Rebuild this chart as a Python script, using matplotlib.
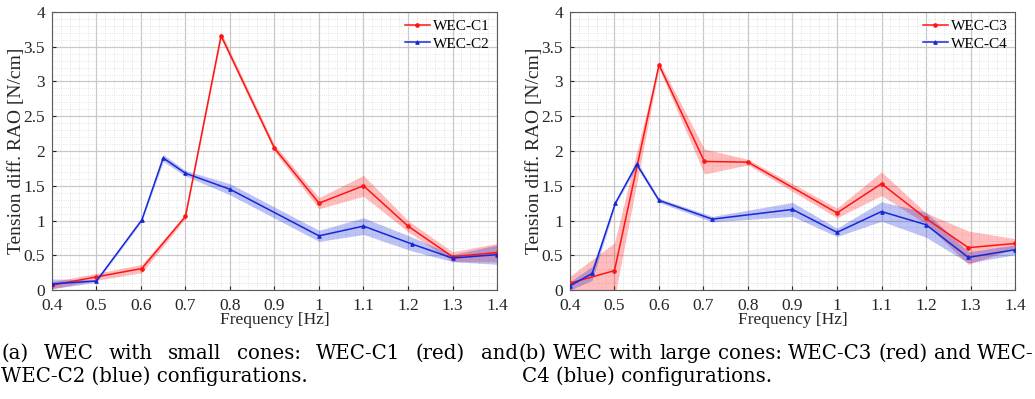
import numpy as np
import matplotlib
matplotlib.use("Agg")
import matplotlib.pyplot as plt
from matplotlib.ticker import MultipleLocator, FuncFormatter

plt.rcParams['font.family'] = ['Liberation Serif', 'DejaVu Serif']

# ---- data ----
f_c1 = [0.4, 0.5, 0.602, 0.7, 0.78, 0.9, 1.0, 1.1, 1.2, 1.3, 1.4]
rao_c1 = [0.07, 0.19, 0.31, 1.06, 3.66, 2.04, 1.25, 1.50, 0.92, 0.48, 0.54]
err_c1 = [0.05, 0.05, 0.06, 0.03, 0.05, 0.05, 0.08, 0.15, 0.08, 0.07, 0.13]

f_c2 = [0.4, 0.5, 0.602, 0.65, 0.7, 0.8, 1.0, 1.1, 1.21, 1.3, 1.4]
rao_c2 = [0.09, 0.13, 1.01, 1.90, 1.68, 1.45, 0.78, 0.92, 0.66, 0.46, 0.51]
err_c2 = [0.07, 0.02, 0.02, 0.05, 0.04, 0.08, 0.08, 0.12, 0.10, 0.05, 0.14]

f_c3 = [0.4, 0.5, 0.6, 0.702, 0.8, 1.0, 1.1, 1.2, 1.295, 1.4]
rao_c3 = [0.10, 0.28, 3.24, 1.85, 1.84, 1.11, 1.53, 1.03, 0.61, 0.67]
err_c3 = [0.10, 0.40, 0.05, 0.18, 0.04, 0.07, 0.17, 0.08, 0.24, 0.07]

f_c4 = [0.4, 0.45, 0.502, 0.55, 0.6, 0.72, 0.9, 1.0, 1.1, 1.2, 1.295, 1.4]
rao_c4 = [0.06, 0.24, 1.25, 1.81, 1.29, 1.02, 1.16, 0.83, 1.13, 0.94, 0.47, 0.58]
err_c4 = [0.06, 0.10, 0.02, 0.04, 0.03, 0.04, 0.10, 0.06, 0.14, 0.18, 0.08, 0.07]

captions = [
    ["(a) WEC with small cones: WEC-C1 (red) and", "WEC-C2 (blue) configurations."],
    ["(b) WEC with large cones: WEC-C3 (red) and WEC-", "C4 (blue) configurations."],
]

RED = '#ff1414'
BLUE = '#1428d8'


def draw_panel(ax, series):
    for f, v, e, col, mk, lab in series:
        f = np.array(f)
        v = np.array(v)
        e = np.array(e)
        ax.fill_between(f, v - e, v + e, color=col, alpha=0.28, lw=0, zorder=2)
        ax.plot(f, v, color=col, lw=1.1, marker=mk, ms=2.5, mew=0.8,
                label=lab, zorder=3)
    ax.set_xlim(0.4, 1.4)
    ax.set_ylim(0, 4)
    ax.xaxis.set_major_locator(MultipleLocator(0.1))
    ax.xaxis.set_minor_locator(MultipleLocator(0.02))
    ax.yaxis.set_major_locator(MultipleLocator(0.5))
    ax.yaxis.set_minor_locator(MultipleLocator(0.1))
    ax.xaxis.set_major_formatter(FuncFormatter(lambda x, p: '%g' % round(x, 2)))
    ax.yaxis.set_major_formatter(FuncFormatter(lambda y, p: '%g' % round(y, 2)))
    ax.grid(True, which='major', color='#c8c8c8', lw=0.9, zorder=0)
    ax.grid(True, which='minor', color='#dcdcdc', lw=0.6, ls=':', zorder=0)
    ax.set_axisbelow(True)
    ax.tick_params(which='both', direction='in', labelsize=12.5, colors='#262626')
    ax.tick_params(which='minor', length=0)
    ax.tick_params(which='major', length=3)
    ax.tick_params(axis='x', pad=5.5)
    ax.tick_params(axis='y', pad=5)
    for s in ax.spines.values():
        s.set_color('#5a5a5a')
        s.set_linewidth(0.8)
    ax.set_xlabel('Frequency [Hz]', fontsize=12.5, labelpad=-1, color='#262626')
    ax.set_ylabel('Tension diff. RAO [N/cm]', fontsize=14, labelpad=-1, color='#262626')
    ax.legend(loc='upper right', frameon=False, fontsize=11, handlelength=1.6,
              handletextpad=0.2, labelspacing=0.25, borderaxespad=0.1)


fig = plt.figure(figsize=(10.35, 3.99), dpi=100)
ax1 = fig.add_axes([0.0502, 0.273, 0.430, 0.697])
ax2 = fig.add_axes([0.5507, 0.273, 0.430, 0.697])

draw_panel(ax1, [(f_c1, rao_c1, err_c1, RED, 'o', 'WEC-C1'),
                 (f_c2, rao_c2, err_c2, BLUE, '^', 'WEC-C2')])
draw_panel(ax2, [(f_c3, rao_c3, err_c3, RED, 'o', 'WEC-C3'),
                 (f_c4, rao_c4, err_c4, BLUE, '^', 'WEC-C4')])

# captions, first line justified to a given width
fig.canvas.draw()
renderer = fig.canvas.get_renderer()
W = fig.bbox.width
CAP_FONT = ['DejaVu Serif']


def justified(line, x0, x1, y, size):
    words = line.split(' ')
    ts = [fig.text(0, y, w, fontsize=size, va='center', ha='left', family=CAP_FONT)
          for w in words]
    widths = [t.get_window_extent(renderer).width / W for t in ts]
    gap = (x1 - x0 - sum(widths)) / (len(words) - 1)
    x = x0
    for t, w in zip(ts, widths):
        t.set_x(x)
        x += w + gap


cap_size = 14.2
justified(captions[0][0], 0.001, 0.500, 0.115, cap_size)
fig.text(0.001, 0.058, captions[0][1], fontsize=cap_size, va='center', ha='left',
         family=CAP_FONT)
justified(captions[1][0], 0.501, 0.999, 0.115, cap_size)
fig.text(0.504, 0.058, captions[1][1], fontsize=cap_size, va='center', ha='left',
         family=CAP_FONT)

fig.savefig('out.png', dpi=100)
